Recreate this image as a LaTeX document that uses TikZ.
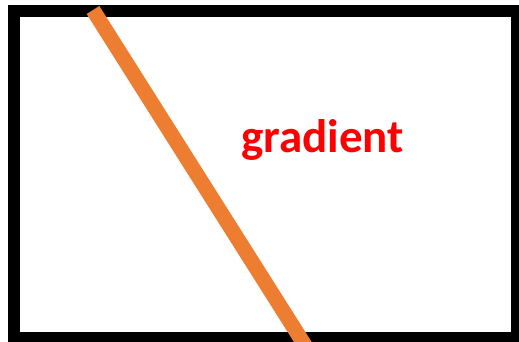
\documentclass[tikz,border=0pt]{standalone}
\usepackage{fontspec}
\setmainfont{Carlito}
\definecolor{cutorange}{HTML}{ED7D31}
\begin{document}
\begin{tikzpicture}[x=1pt,y=-1pt]
\useasboundingbox (0,0) rectangle (519,342);
\draw[line width=12pt] (13.5,11) rectangle (517,338);

\draw[cutorange,line width=15pt] (93,10) -- (306,347);

\node[red,anchor=base,font=\bfseries\fontsize{47}{51}\selectfont,inner sep=0pt] (grad) at (322.5,153) {gradient};

\end{tikzpicture}
\end{document}
